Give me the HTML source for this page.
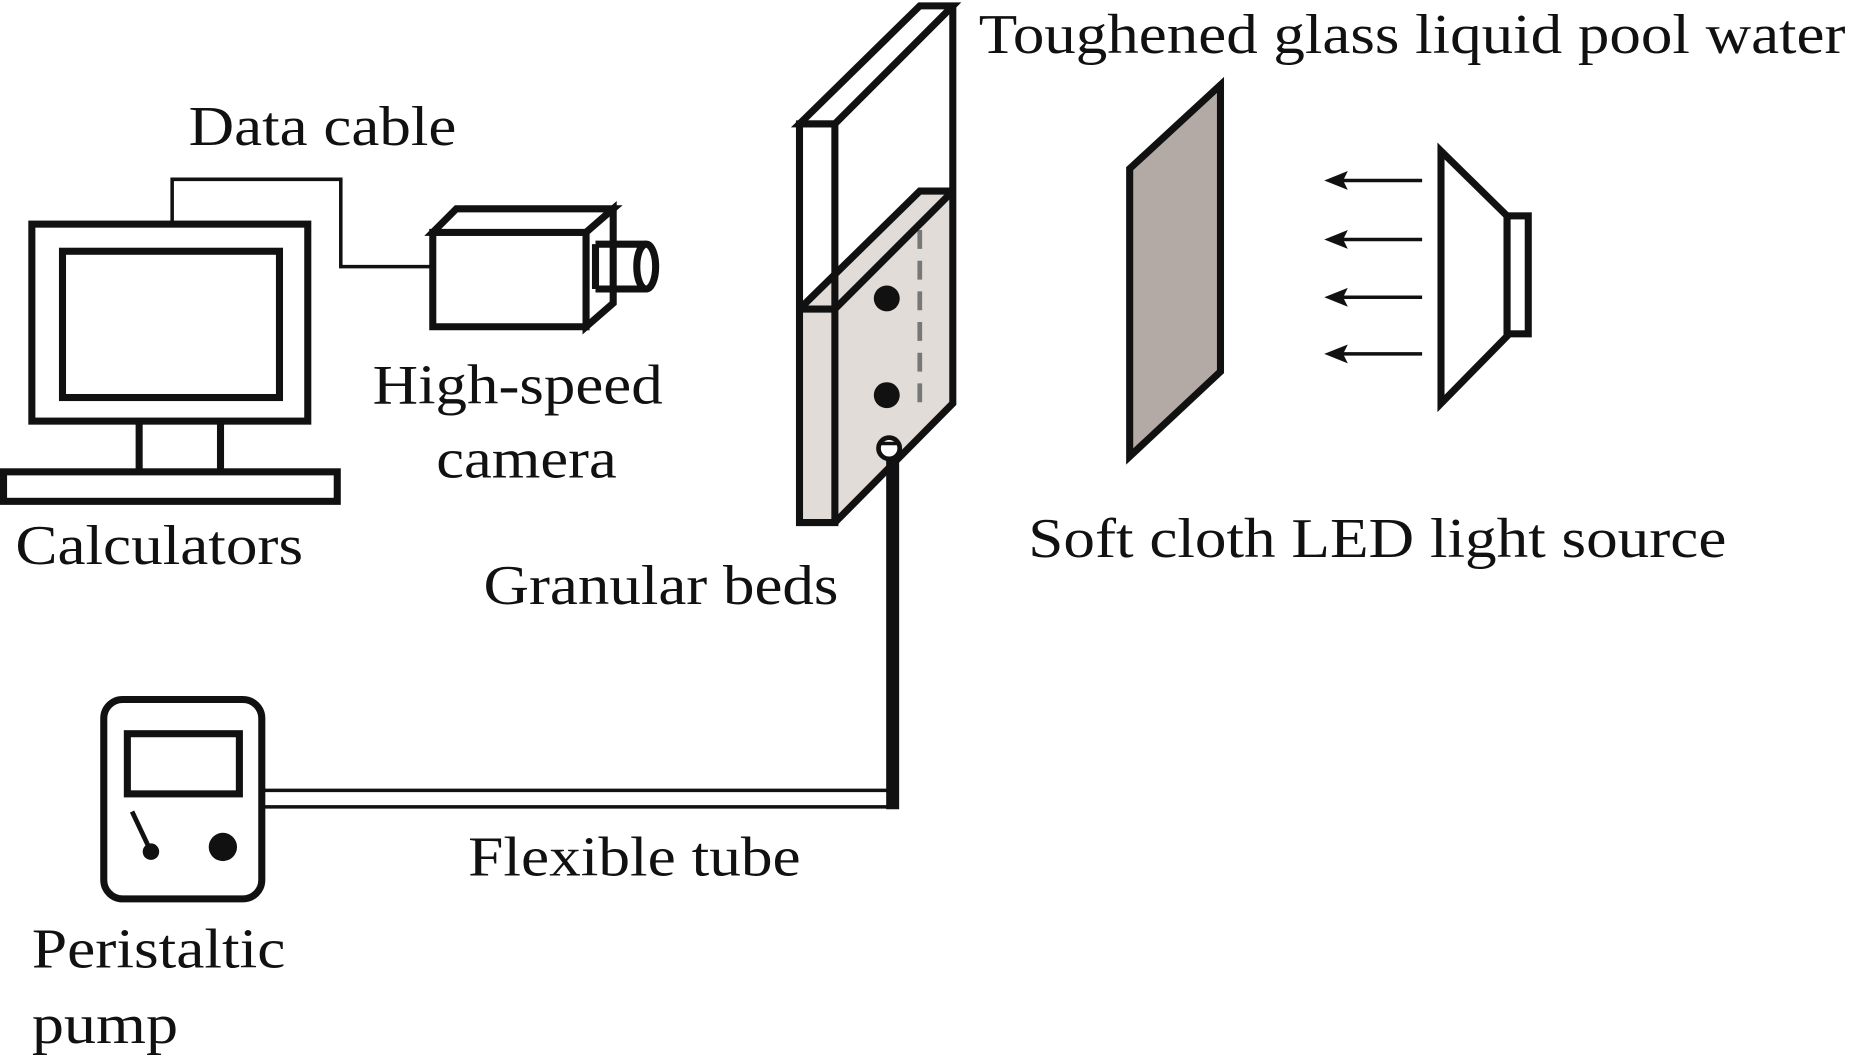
<!DOCTYPE html>
<html><head><meta charset="utf-8"><style>
html,body{margin:0;padding:0;background:#fff;width:1849px;height:1064px;overflow:hidden}
svg{display:block}
text{font-family:"Liberation Serif",serif;font-size:48px;fill:#111}
</style></head><body>
<svg width="1849" height="1064" viewBox="0 0 1568 902" preserveAspectRatio="none" xmlns="http://www.w3.org/2000/svg">
<g fill="none" stroke="#111" stroke-width="6" stroke-linejoin="miter">
<!-- monitor -->
<rect x="27" y="190" width="234" height="167"/>
<rect x="53" y="213" width="184" height="124"/>
<line x1="118" y1="357" x2="118" y2="400"/>
<line x1="187" y1="357" x2="187" y2="400"/>
<rect x="3" y="400" width="283" height="25"/>
<!-- cable -->
<polyline points="146,188 146,152 289,152 289,226 367,226" stroke-width="3"/>
<!-- camera -->
<polygon points="367,197 497,197 497,277 367,277" fill="#fff"/>
<polygon points="367,197 387,177 520,177 497,197" fill="#fff"/>
<polygon points="497,197 520,177 520,257 497,277" fill="#fff"/>
<path d="M505,207 L548,207 M505,245 L548,245 M505,207 L505,245" />
<ellipse cx="548" cy="226" rx="8" ry="19" fill="#fff"/>
<!-- tank -->
<polygon points="678,262 708,262 808,162 808,342 708,443 678,443" fill="#e2dcd8" stroke="none"/>
<polygon points="678,262 708,262 808,162 780,162" fill="#e2dcd8" stroke="none"/>
<line x1="780" y1="195" x2="780" y2="345" stroke-dasharray="16,10" stroke="#777" stroke-width="4"/>
<polygon points="678,105 708,105 708,443 678,443"/>
<polygon points="678,105 780,5 808,5 708,105"/>
<polyline points="808,5 808,342 708,443"/>
<polyline points="678,262 780,162 808,162"/>
<line x1="708" y1="262" x2="808" y2="162"/>
<line x1="678" y1="262" x2="708" y2="262"/>
<!-- tube -->
<line x1="757" y1="388" x2="757" y2="686" stroke-width="11"/>
<line x1="222" y1="670" x2="752" y2="670" stroke-width="3"/>
<line x1="222" y1="684" x2="752" y2="684" stroke-width="3"/>
<!-- pump -->
<rect x="88" y="593" width="134" height="169" rx="16"/>
<rect x="108" y="622" width="95" height="51"/>
<line x1="112" y1="688" x2="128" y2="722" stroke-width="4"/>
<!-- cloth -->
<polygon points="958,143 1035,72 1035,315 958,387" fill="#b3aaa6"/>
<!-- LED -->
<polygon points="1222,128 1278,183 1278,285 1222,342"/>
<rect x="1278" y="183" width="18" height="100"/>
<g stroke-width="3">
<line x1="1206" y1="153" x2="1135" y2="153"/>
<line x1="1206" y1="203" x2="1135" y2="203"/>
<line x1="1206" y1="252" x2="1135" y2="252"/>
<line x1="1206" y1="300" x2="1135" y2="300"/>
</g>
</g>
<g fill="#111">
<polygon points="1123,153 1143,145 1139,153 1143,161"/>
<polygon points="1123,203 1143,195 1139,203 1143,211"/>
<polygon points="1123,252 1143,244 1139,252 1143,260"/>
<polygon points="1123,300 1143,292 1139,300 1143,308"/>
<circle cx="752" cy="253" r="11"/>
<circle cx="752" cy="335" r="11"/>
<circle cx="128" cy="722" r="7"/>
<circle cx="189" cy="718" r="12"/>
</g>
<ellipse cx="754" cy="380" rx="9" ry="9" fill="#fff" stroke="#111" stroke-width="4"/>
<line x1="745" y1="376" x2="763" y2="376" stroke="#111" stroke-width="3"/>
<text x="160" y="123" textLength="227" lengthAdjust="spacingAndGlyphs">Data cable</text>
<text x="316" y="342" textLength="246" lengthAdjust="spacingAndGlyphs">High-speed</text>
<text x="370" y="405" textLength="153" lengthAdjust="spacingAndGlyphs">camera</text>
<text x="13" y="478" textLength="244" lengthAdjust="spacingAndGlyphs">Calculators</text>
<text x="410" y="512" textLength="301" lengthAdjust="spacingAndGlyphs">Granular beds</text>
<text x="830" y="45" textLength="735" lengthAdjust="spacingAndGlyphs">Toughened glass liquid pool water</text>
<text x="872" y="472" textLength="592" lengthAdjust="spacingAndGlyphs">Soft cloth LED light source</text>
<text x="397" y="742" textLength="282" lengthAdjust="spacingAndGlyphs">Flexible tube</text>
<text x="27" y="820" textLength="215" lengthAdjust="spacingAndGlyphs">Peristaltic</text>
<text x="27" y="884" textLength="124" lengthAdjust="spacingAndGlyphs">pump</text>
</svg>
</body></html>
